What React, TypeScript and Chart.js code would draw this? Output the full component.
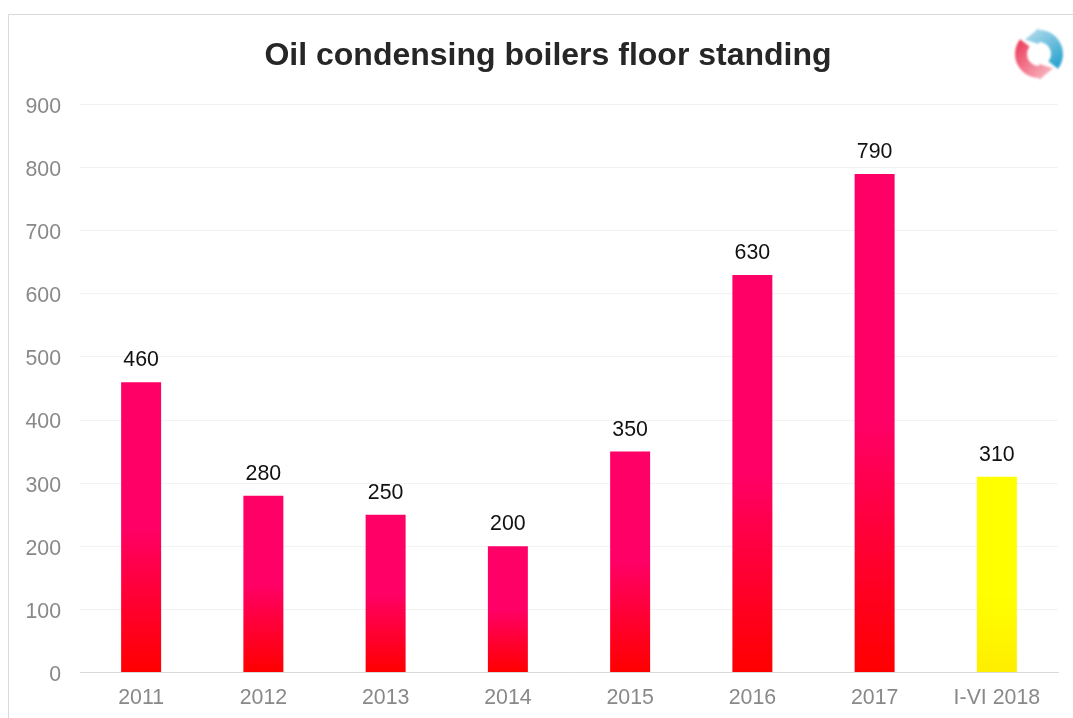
import React, { useEffect, useRef } from "react";
import { Chart, registerables } from "chart.js";

Chart.register(...registerables);

const categories = ["2011", "2012", "2013", "2014", "2015", "2016", "2017", "I-VI 2018"];
const sales = [460, 280, 250, 200, 350, 630, 790, 310];
const yTicks = [0, 100, 200, 300, 400, 500, 600, 700, 800, 900];
const chartTitle = "Oil condensing boilers floor standing";
const FONT = "'Liberation Sans', Arial, sans-serif";
const LABEL_SIZE = 21.33;

// Outer card edge: only the top and left sides are visible on the page.
const frame = {
  id: "frame",
  beforeDraw(chart: any) {
    const { ctx, width, height } = chart;
    ctx.save();
    ctx.fillStyle = "#ffffff";
    ctx.fillRect(0, 0, width, height);
    ctx.strokeStyle = "#d9d9d9";
    ctx.lineWidth = 1;
    ctx.beginPath();
    ctx.moveTo(8.5, height);
    ctx.lineTo(8.5, 14.5);
    ctx.lineTo(width, 14.5);
    ctx.stroke();
    ctx.restore();
  },
};

// The value axis is narrow so that the title centres further right; its labels
// still need the full strip to the left, so the clip box is widened after layout.
const widenAxisClip = {
  id: "widenAxisClip",
  afterLayout(chart: any) {
    chart.scales.y.left = 0;
  },
};

// Value captions above each bar.
const valueLabels = {
  id: "valueLabels",
  afterDatasetsDraw(chart: any) {
    const { ctx } = chart;
    const meta = chart.getDatasetMeta(0);
    ctx.save();
    ctx.font = `${LABEL_SIZE}px ${FONT}`;
    ctx.fillStyle = "#111111";
    ctx.textAlign = "center";
    ctx.textBaseline = "alphabetic";
    meta.data.forEach((bar: any, i: number) => {
      ctx.fillText(String(sales[i]), bar.x, bar.y - 16);
    });
    ctx.restore();
  },
};

function ringArrow(
  ctx: CanvasRenderingContext2D,
  cx: number,
  cy: number,
  from: number,
  to: number,
  tip: number,
  rIn: number,
  rOut: number,
  fill: CanvasGradient
) {
  const rad = (d: number) => (d * Math.PI) / 180;
  const pt = (r: number, a: number): [number, number] => [cx + r * Math.cos(rad(a)), cy + r * Math.sin(rad(a))];
  ctx.beginPath();
  ctx.arc(cx, cy, rOut, rad(from), rad(to), true);
  ctx.lineTo(...pt(rOut + 2, to));
  ctx.lineTo(...pt((rIn + rOut) / 2 + 2, tip));
  ctx.lineTo(...pt(rIn - 2, to));
  ctx.lineTo(...pt(rIn, to));
  ctx.arc(cx, cy, rIn, rad(to), rad(from), false);
  ctx.closePath();
  ctx.fillStyle = fill;
  ctx.fill();
}

// Round two-arrow emblem in the top right corner.
const emblem = {
  id: "emblem",
  afterDraw(chart: any) {
    const { ctx } = chart;
    const cx = 1039;
    const cy = 54;
    ctx.save();
    ctx.filter = "blur(0.9px)";
    const blue = ctx.createLinearGradient(cx - 10, cy - 25, cx + 20, cy + 18);
    blue.addColorStop(0, "#b4dcec");
    blue.addColorStop(1, "#1a9ccb");
    ringArrow(ctx, cx, cy, 38, -90, -135, 12, 24, blue);
    const red = ctx.createLinearGradient(cx - 24, cy - 8, cx + 14, cy + 26);
    red.addColorStop(0, "#ec3f5e");
    red.addColorStop(1, "#f9c6cd");
    ringArrow(ctx, cx, cy, -142, 90, 45, 12, 24, red);
    ctx.restore();
  },
};

function barFill(context: any) {
  const { chart, dataIndex } = context;
  const isLast = dataIndex === categories.length - 1;
  const y = chart.scales.y;
  const top = y ? y.getPixelForValue(sales[dataIndex]) : NaN;
  const bottom = y ? y.getPixelForValue(0) : NaN;
  // The scale has no pixel range until the first layout pass has finished.
  if (!Number.isFinite(top) || !Number.isFinite(bottom)) {
    return isLast ? "#ffff00" : "#ff0066";
  }
  const g = chart.ctx.createLinearGradient(0, top, 0, bottom);
  if (isLast) {
    g.addColorStop(0, "#ffff00");
    g.addColorStop(0.6, "#ffff00");
    g.addColorStop(1, "#ffee00");
  } else {
    g.addColorStop(0, "#ff0066");
    g.addColorStop(0.5, "#ff0066");
    g.addColorStop(1, "#ff0000");
  }
  return g;
}

export default function App() {
  const ref = useRef<HTMLCanvasElement>(null);

  useEffect(() => {
    const chart = new Chart(ref.current!, {
      type: "bar",
      data: {
        labels: categories,
        datasets: [
          {
            data: sales,
            backgroundColor: barFill,
            barPercentage: 0.327,
            categoryPercentage: 1,
            borderWidth: 0,
          },
        ],
      },
      plugins: [frame, widenAxisClip, valueLabels, emblem],
      options: {
        animation: false,
        responsive: false,
        layout: { padding: { left: 38, right: 15, top: 36.8, bottom: 0 } },
        plugins: {
          legend: { display: false },
          tooltip: { enabled: false },
          title: {
            display: true,
            text: chartTitle,
            color: "#262626",
            font: { family: FONT, size: 32, weight: "bold", lineHeight: 1.2 },
            padding: { top: 0, bottom: 29.3 },
          },
        },
        scales: {
          x: {
            grid: { display: false },
            border: { color: "#d9d9d9", width: 1 },
            ticks: {
              color: "#898989",
              font: { family: FONT, size: LABEL_SIZE },
              padding: 5,
              maxRotation: 0,
              autoSkip: false,
            },
            afterFit(scale: any) {
              scale.height = 45.5;
            },
          },
          y: {
            min: 0,
            max: 900,
            grid: { color: "#f2f2f2", drawTicks: false, lineWidth: 1 },
            border: { display: false },
            afterBuildTicks(scale: any) {
              scale.ticks = yTicks.map((value) => ({ value }));
            },
            ticks: {
              color: "#898989",
              font: { family: FONT, size: LABEL_SIZE },
              padding: 19,
              labelOffset: 2.5,
            },
            afterFit(scale: any) {
              scale.width = 42;
            },
          },
        },
      } as any,
    });
    chart.update();
    return () => chart.destroy();
  }, []);

  return (
    <canvas
      ref={ref}
      width={1073}
      height={718}
      style={{ position: "absolute", left: 0, top: 0, display: "block" }}
    />
  );
}
